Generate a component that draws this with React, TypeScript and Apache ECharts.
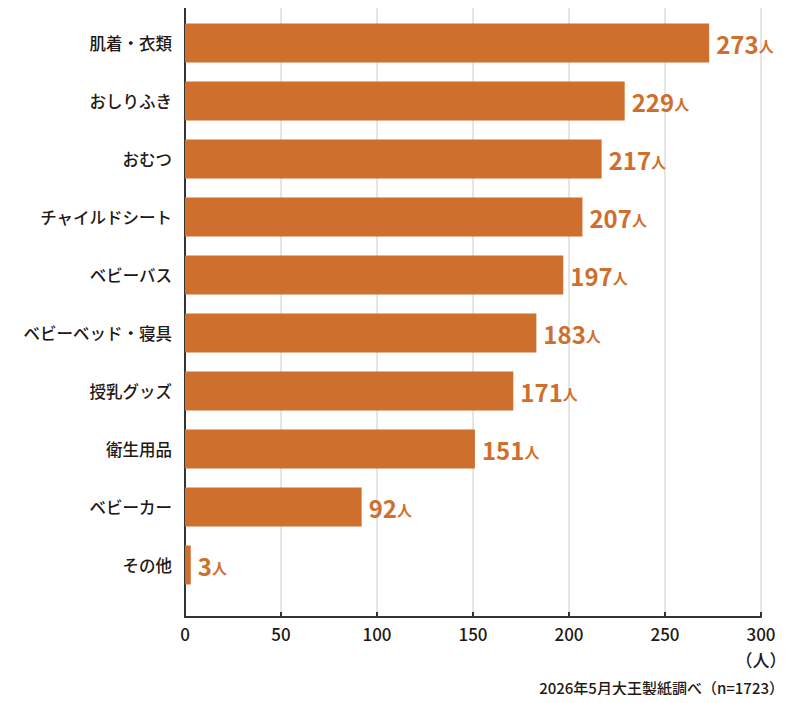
import React, { useEffect, useRef } from "react";
import * as echarts from "echarts";

const categories = [
  "肌着・衣類",
  "おしりふき",
  "おむつ",
  "チャイルドシート",
  "ベビーバス",
  "ベビーベッド・寝具",
  "授乳グッズ",
  "衛生用品",
  "ベビーカー",
  "その他",
];
const counts = [273, 229, 217, 207, 197, 183, 171, 151, 92, 3];
const unitLabel = "（人）";
const sourceNote = "2026年5月大王製紙調べ（n=1723）";

const FONT = '"Noto Sans CJK JP", "Noto Sans", sans-serif';
const BAR = "#CF6F2E";
const INK = "#231815";

export default function App() {
  const ref = useRef<HTMLDivElement>(null);

  useEffect(() => {
    if (!ref.current) return;
    const chart = echarts.init(ref.current, null, { renderer: "svg" });
    chart.setOption({
      animation: false,
      textStyle: { fontFamily: FONT },
      grid: [
        { left: 185, right: 39, top: 0, bottom: 86 },
        { left: 185, right: 39, top: 14, height: 580 },
      ],
      xAxis: [
        {
          gridIndex: 0,
          type: "value",
          min: 0,
          max: 300,
          interval: 50,
          axisLine: { show: true, lineStyle: { color: "#333", width: 2 } },
          axisTick: {
            show: true,
            inside: true,
            length: 5,
            lineStyle: { color: "#333", width: 2 },
          },
          splitLine: { show: true, lineStyle: { color: "#dcdcdc", width: 1.5 } },
          axisLabel: {
            fontSize: 17,
            fontWeight: 500,
            color: INK,
            margin: 8,
            fontFamily: FONT,
          },
        },
        {
          gridIndex: 1,
          type: "value",
          min: 0,
          max: 300,
          show: false,
        },
      ],
      yAxis: [
        {
          gridIndex: 0,
          type: "value",
          axisLine: { show: true, lineStyle: { color: "#333", width: 2 } },
          axisTick: { show: false },
          axisLabel: { show: false },
          splitLine: { show: false },
        },
        {
          gridIndex: 1,
          type: "category",
          inverse: true,
          data: categories,
          axisLine: { show: false },
          axisTick: { show: false },
          axisLabel: {
            fontSize: 16.5,
            fontWeight: 500,
            color: INK,
            margin: 13,
            fontFamily: FONT,
          },
        },
      ],
      series: [
        {
          type: "bar",
          xAxisIndex: 1,
          yAxisIndex: 1,
          data: counts,
          barWidth: 39,
          itemStyle: { color: BAR },
          label: {
            show: true,
            position: "right",
            distance: 7,
            formatter: (p: any) => `{n|${p.value}}{u|人}`,
            rich: {
              n: {
                fontSize: 24,
                fontWeight: "bold",
                color: BAR,
                fontFamily: FONT,
                verticalAlign: "bottom",
              },
              u: {
                fontSize: 15,
                fontWeight: "bold",
                color: BAR,
                fontFamily: FONT,
                verticalAlign: "bottom",
                padding: [0, 0, 2, 0],
              },
            },
          },
        },
      ],
      graphic: [
        {
          type: "text",
          x: 761,
          y: 659,
          style: {
            text: unitLabel,
            fontSize: 17,
            fontWeight: 500,
            fill: INK,
            fontFamily: FONT,
            align: "center",
            verticalAlign: "middle",
          },
        },
        {
          type: "text",
          x: 784,
          y: 687,
          style: {
            text: sourceNote,
            fontSize: 15,
            fontWeight: 500,
            fill: INK,
            fontFamily: FONT,
            align: "right",
            verticalAlign: "middle",
          },
        },
      ],
    });
    return () => chart.dispose();
  }, []);

  return <div ref={ref} style={{ width: 800, height: 703, margin: -8 }} />;
}
